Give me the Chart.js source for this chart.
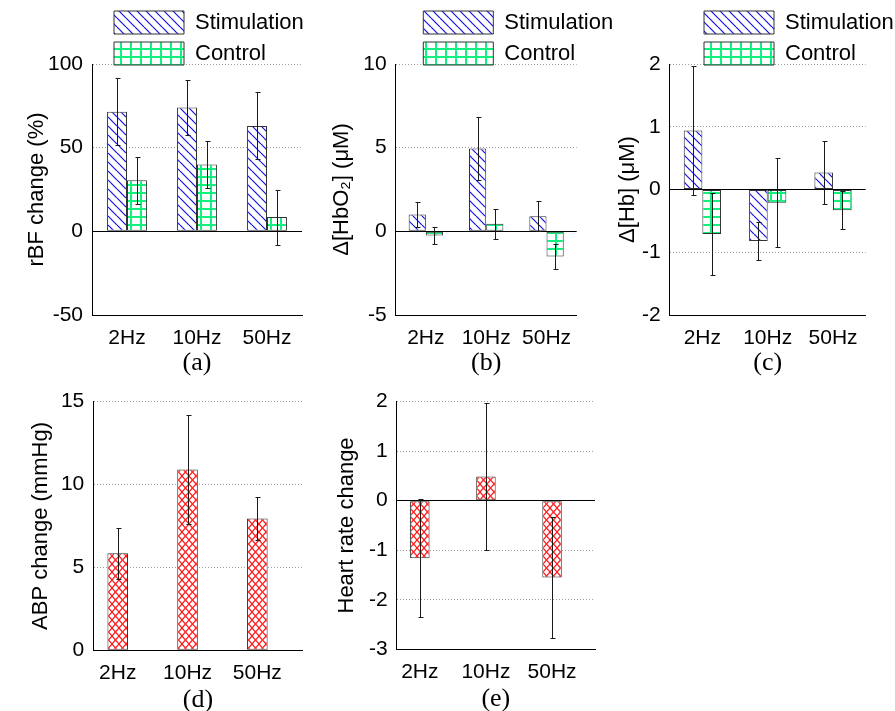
<!DOCTYPE html>
<html>
<head>
<meta charset="utf-8">
<script src="https://cdn.jsdelivr.net/npm/chart.js@4.4.1/dist/chart.umd.min.js"></script>
<style>
  html, body { margin: 0; background: #fff; overflow: hidden; }
  #fig { position: relative; width: 895px; height: 711px; }
  canvas { position: absolute; }
</style>
</head>
<body>
<div id="fig">
  <canvas id="rbf" width="315" height="384" style="left:0;top:0"></canvas>
  <canvas id="hbo2" width="315" height="384" style="left:305px;top:0"></canvas>
  <canvas id="hb" width="285" height="384" style="left:610px;top:0"></canvas>
  <canvas id="abp" width="315" height="345" style="left:0;top:380px"></canvas>
  <canvas id="hr" width="315" height="345" style="left:305px;top:380px"></canvas>
</div>
<script>
const freqs = ["2Hz", "10Hz", "50Hz"];
const seriesNames = ["Stimulation", "Control"];

// (a) rBF change (%)
const rbfStim = [71.5, 74, 63];
const rbfStimErr = [20, 16.5, 20];
const rbfCtrl = [30.5, 40, 8.5];
const rbfCtrlErr = [14, 14, 16.5];

// (b) Δ[HbO2] (μM)
const hbo2Stim = [1.0, 4.95, 0.9];
const hbo2StimErr = [0.75, 1.9, 0.9];
const hbo2Ctrl = [-0.25, 0.45, -1.5];
const hbo2CtrlErr = [0.5, 0.9, 0.75];

// (c) Δ[Hb] (μM)
const hbStim = [0.94, -0.82, 0.27];
const hbStimErr = [1.03, 0.3, 0.5];
const hbCtrl = [-0.71, -0.21, -0.33];
const hbCtrlErr = [0.65, 0.71, 0.3];

// (d) ABP change, (e) heart rate change
const abp = [5.85, 10.9, 7.95];
const abpErr = [1.55, 3.3, 1.3];
const hr = [-1.16, 0.49, -1.55];
const hrErr = [1.19, 1.49, 1.22];

const sansFont = "'Liberation Sans', Arial, Helvetica, sans-serif";
const serifFont = "'Liberation Serif', 'Times New Roman', serif";
Chart.defaults.font.family = sansFont;
Chart.defaults.color = "#000";

function tile(w, h, draw) {
  const c = document.createElement("canvas");
  c.width = w;
  c.height = h;
  const t = c.getContext("2d");
  t.fillStyle = "#fff";
  t.fillRect(0, 0, w, h);
  draw(t, w, h);
  return t.createPattern(c, "repeat");
}

const stimFill = tile(9, 9, (t, w, h) => {
  t.strokeStyle = "#1212e8";
  t.lineWidth = 1.2;
  for (const k of [-1, 0, 1]) {
    t.beginPath(); t.moveTo(k * w, 0); t.lineTo(k * w + w, h); t.stroke();
  }
});
const ctrlFill = tile(10, 8, (t, w, h) => {
  t.fillStyle = "#14f080";
  t.fillRect(0, 0, 2, h);
  t.fillRect(0, 0, w, 2);
});
const crossFill = tile(7, 8, (t, w, h) => {
  t.strokeStyle = "#ff1a1a";
  t.lineWidth = 1.2;
  for (const k of [-1, 0, 1]) {
    t.beginPath(); t.moveTo(k * w, 0); t.lineTo(k * w + w, h); t.stroke();
    t.beginPath(); t.moveTo(k * w + w, 0); t.lineTo(k * w, h); t.stroke();
  }
});

// vertical error bars from dataset.errors, drawn on the chart's y scale
const errorBars = {
  id: "errorBars",
  afterDatasetsDraw(chart) {
    const { ctx } = chart;
    const y = chart.scales.y;
    ctx.save();
    ctx.strokeStyle = "#1a1a1a";
    ctx.lineWidth = 1;
    chart.data.datasets.forEach((ds, i) => {
      if (!ds.errors) return;
      chart.getDatasetMeta(i).data.forEach((bar, j) => {
        const d = ds.data[j];
        const v = typeof d === "object" ? d.y : d;
        const x = Math.round(bar.x) + 0.5;
        const top = Math.round(y.getPixelForValue(v + ds.errors[j])) + 0.5;
        const bot = Math.round(y.getPixelForValue(v - ds.errors[j])) + 0.5;
        ctx.beginPath();
        ctx.moveTo(x, top); ctx.lineTo(x, bot);
        ctx.moveTo(x - 2, top); ctx.lineTo(x + 3, top);
        ctx.moveTo(x - 2, bot); ctx.lineTo(x + 3, bot);
        ctx.stroke();
      });
    });
    ctx.restore();
  }
};

// shift the stacked legend to the right over the plot, and let its text run past the plot edge
const legendNudge = {
  id: "legendNudge",
  afterLayout(chart, args, opts) {
    const lg = chart.legend;
    if (lg && opts.dx) {
      lg.left += opts.dx;
      lg.right = chart.width;
      lg.bottom += 4;
    }
  }
};

function yAxis(min, max, step, title, width, titlePad) {
  return {
    min: min,
    max: max,
    ticks: { stepSize: step, padding: 9, color: "#000", font: { size: 21 } },
    grid: {
      drawTicks: false,
      color: c => (c.tick && c.tick.value === 0 ? "#000" : "#a0a0a0")
    },
    border: {
      display: true,
      color: "#000",
      dash: c => (c.tick && c.tick.value !== 0 ? [1, 2] : [])
    },
    title: { display: true, text: title, color: "#000", font: { size: 22 }, padding: { top: titlePad, bottom: 0 } },
    afterFit: s => { s.width = width; }
  };
}

function xAxis(caption, height, tickPad, titlePad) {
  return {
    grid: { display: false },
    border: { display: true, color: "#000" },
    ticks: { padding: tickPad, maxRotation: 0, autoSkip: false, color: "#000", font: { size: 21 } },
    title: { display: true, text: caption, color: "#000", font: { family: serifFont, size: 26 }, padding: { top: 0, bottom: titlePad } },
    afterFit: s => { s.height = height; }
  };
}

function groupedChart(id, p) {
  return new Chart(document.getElementById(id), {
    type: "bar",
    data: {
      labels: freqs,
      datasets: [
        { label: seriesNames[0], data: p.stim, errors: p.stimErr, backgroundColor: stimFill, borderColor: "#333", borderWidth: 1, borderSkipped: false },
        { label: seriesNames[1], data: p.ctrl, errors: p.ctrlErr, backgroundColor: ctrlFill, borderColor: "#333", borderWidth: 1, borderSkipped: false }
      ]
    },
    options: {
      responsive: false,
      animation: false,
      devicePixelRatio: 1,
      categoryPercentage: 0.57,
      barPercentage: 1,
      layout: { padding: { left: 0, top: 3, right: p.padRight, bottom: 3 } },
      plugins: {
        legend: {
          position: "top",
          align: "start",
          fullSize: false,
          maxHeight: 61,
          labels: { boxWidth: 70, boxHeight: 23, padding: 8, color: "#000", font: { size: 22 } }
        },
        tooltip: { enabled: false },
        legendNudge: { dx: p.dx }
      },
      scales: {
        x: xAxis(p.caption, 66, 3, 2.4),
        y: yAxis(p.min, p.max, p.step, p.title, p.yWidth, p.titlePad)
      }
    },
    plugins: [errorBars, legendNudge]
  });
}

function singleChart(id, p) {
  return new Chart(document.getElementById(id), {
    type: "bar",
    data: {
      datasets: [
        {
          label: p.title,
          data: p.values.map((v, i) => ({ x: i + 1, y: v })),
          errors: p.errors,
          backgroundColor: crossFill,
          borderColor: "#333",
          borderWidth: 1,
          borderSkipped: false
        }
      ]
    },
    options: {
      responsive: false,
      animation: false,
      devicePixelRatio: 1,
      categoryPercentage: 0.295,
      barPercentage: 1,
      layout: { padding: { left: 0, top: p.padTop, right: p.padRight, bottom: p.padBottom } },
      plugins: { legend: { display: false }, tooltip: { enabled: false } },
      scales: {
        x: Object.assign(xAxis(p.caption, 72, 2, 6.7), {
          type: "linear",
          min: 0.65,
          max: 3.65,
          offset: false,
          afterBuildTicks: s => { s.ticks = freqs.map((f, i) => ({ value: i + 1 })); }
        }),
        y: yAxis(p.min, p.max, p.step, p.title, p.yWidth, p.titlePad)
      }
    },
    plugins: [errorBars]
  });
}

groupedChart("rbf", {
  stim: rbfStim, stimErr: rbfStimErr, ctrl: rbfCtrl, ctrlErr: rbfCtrlErr,
  min: -50, max: 100, step: 50, title: "rBF change (%)", caption: "(a)",
  yWidth: 92, titlePad: 23.3, padRight: 13, dx: 14
});
groupedChart("hbo2", {
  stim: hbo2Stim, stimErr: hbo2StimErr, ctrl: hbo2Ctrl, ctrlErr: hbo2CtrlErr,
  min: -5, max: 10, step: 5, title: "Δ[HbO₂] (μM)", caption: "(b)",
  yWidth: 90.7, titlePad: 23.3, padRight: 43.3, dx: 19.6
});
groupedChart("hb", {
  stim: hbStim, stimErr: hbStimErr, ctrl: hbCtrl, ctrlErr: hbCtrlErr,
  min: -2, max: 2, step: 1, title: "Δ[Hb] (μM)", caption: "(c)",
  yWidth: 59.7, titlePad: 4.8, padRight: 29.3, dx: 26.3
});

const abpChart = singleChart("abp", {
  values: abp, errors: abpErr, min: 0, max: 15, step: 5,
  title: "ABP change (mmHg)", caption: "(d)",
  yWidth: 93.3, titlePad: 28.1, padTop: 19, padRight: 12.3, padBottom: 2.7
});
abpChart.options.scales.x.ticks.callback = v => freqs[v - 1];
abpChart.update();

const hrChart = singleChart("hr", {
  values: hr, errors: hrErr, min: -3, max: 2, step: 1,
  title: "Heart rate change", caption: "(e)",
  yWidth: 91.7, titlePad: 28.5, padTop: 17.7, padRight: 25, padBottom: 3.7
});
hrChart.options.scales.x.ticks.callback = v => freqs[v - 1];
hrChart.update();
</script>
</body>
</html>
